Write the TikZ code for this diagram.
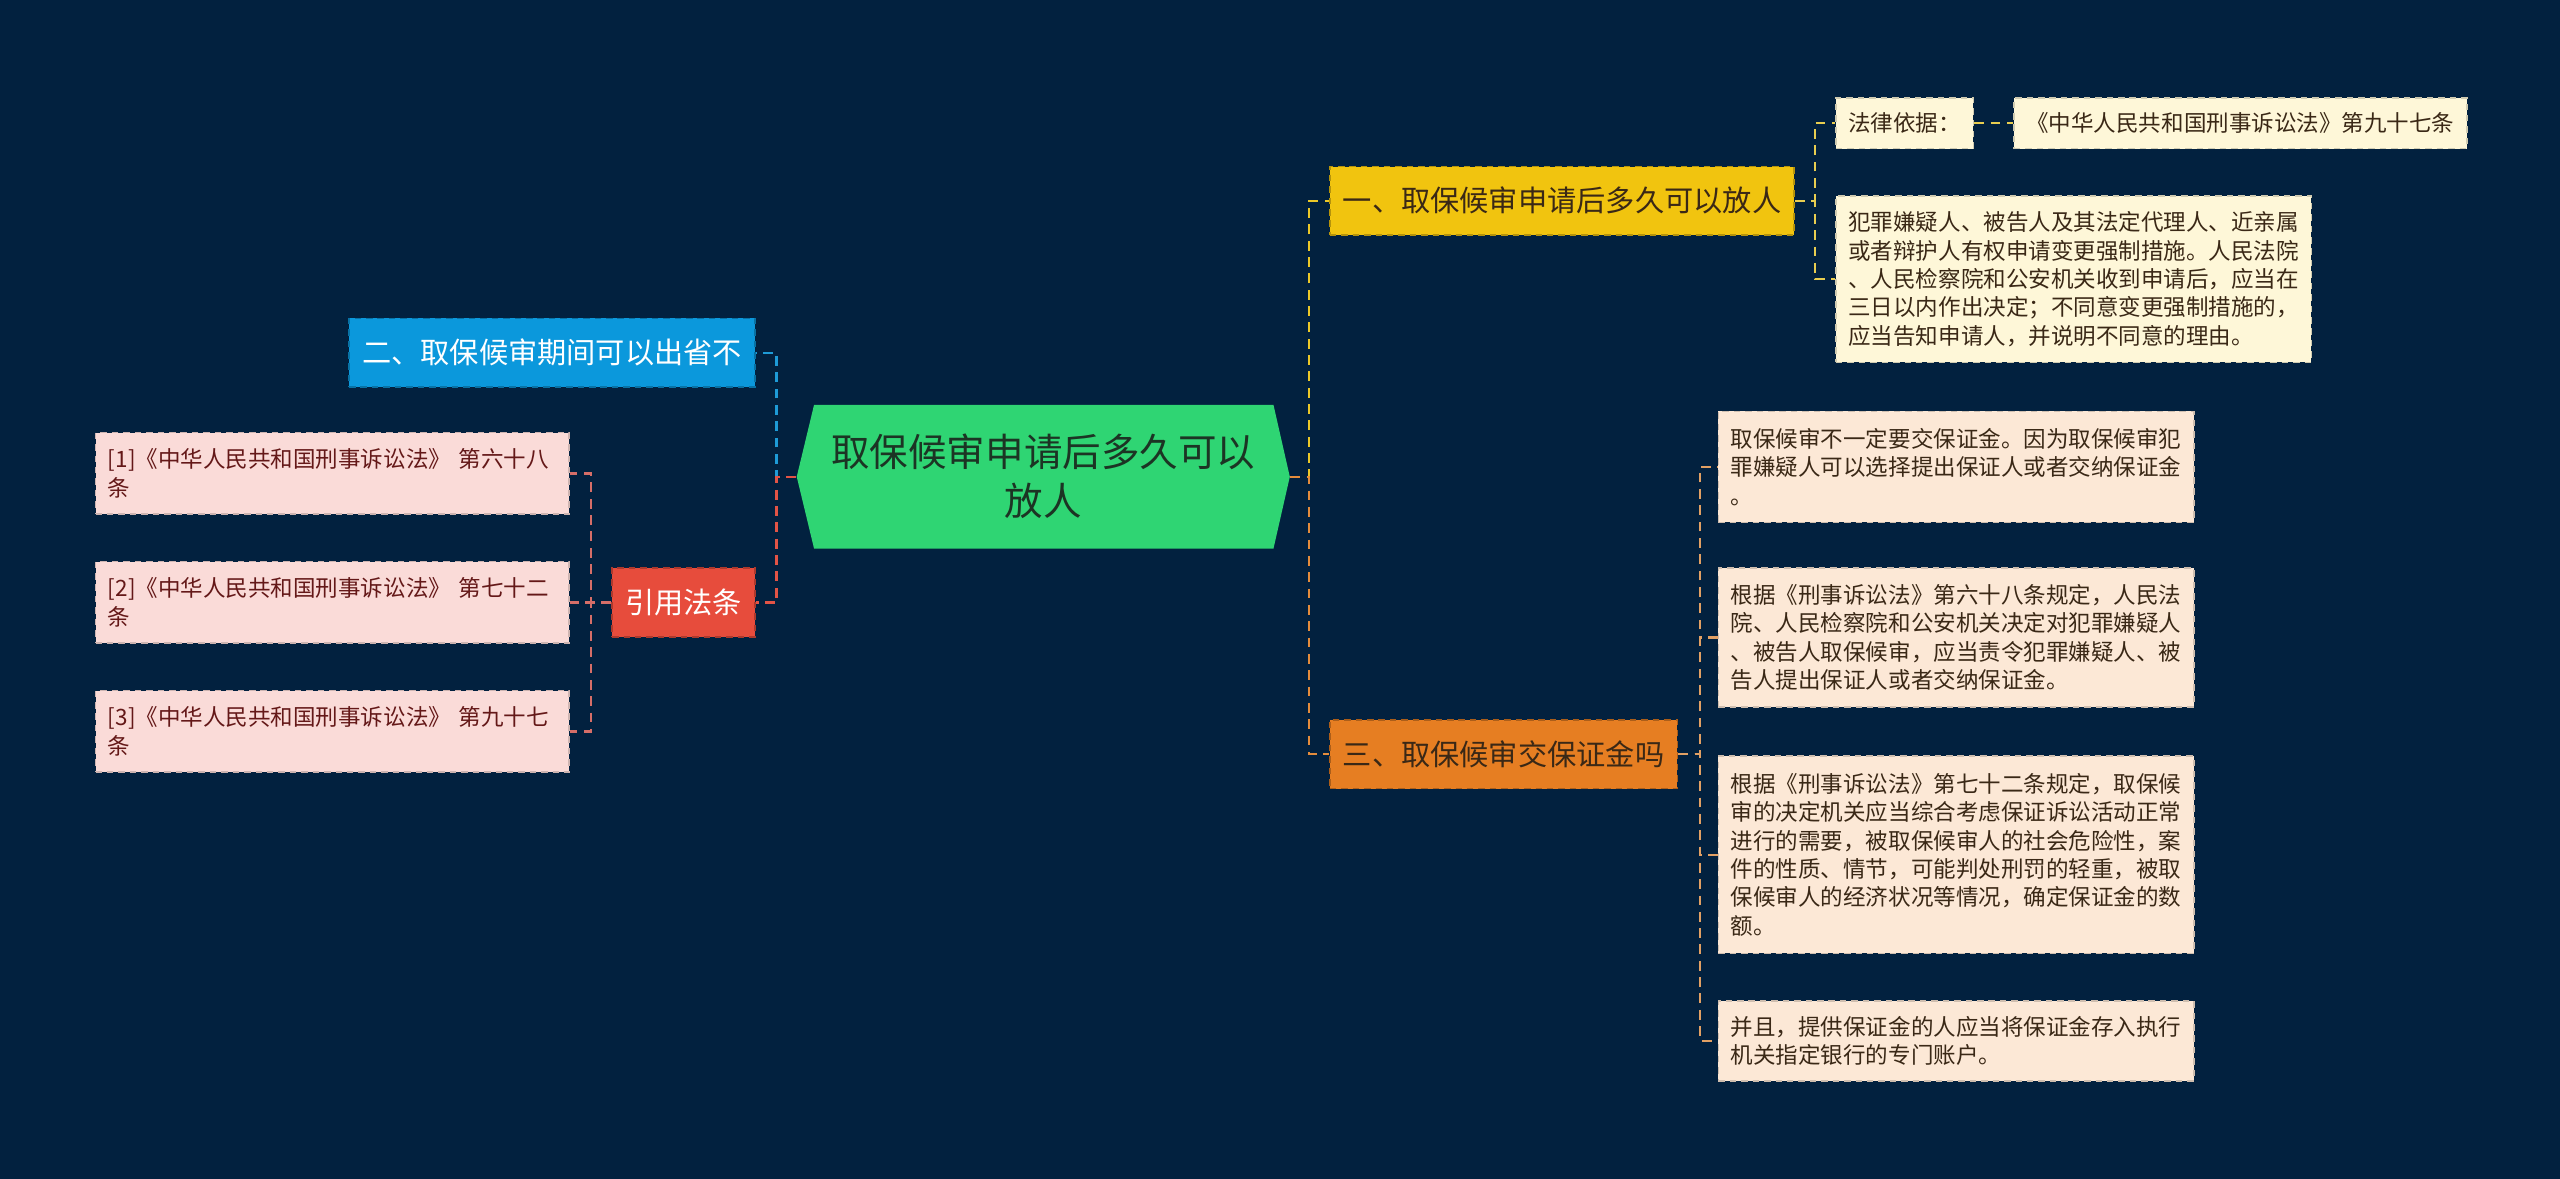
\documentclass[tikz,border=0pt]{standalone}
\usepackage{fontspec}
\setmainfont{Noto Sans CJK SC}
\definecolor{bgnavy}{RGB}{2,33,63}
\definecolor{rootgreen}{RGB}{47,213,115}
\definecolor{roottext}{RGB}{28,52,36}
\definecolor{topicyellow}{RGB}{241,196,15}
\definecolor{topicblue}{RGB}{11,152,220}
\definecolor{topicred}{RGB}{231,76,60}
\definecolor{topicorange}{RGB}{230,126,34}
\definecolor{leafcream}{RGB}{254,247,216}
\definecolor{leafpeach}{RGB}{252,232,214}
\definecolor{leafpink}{RGB}{250,219,216}
\definecolor{textbrown}{RGB}{58,40,22}
\definecolor{textmaroon}{RGB}{100,24,24}
\definecolor{linkyellow}{RGB}{236,200,40}
\definecolor{linkorange}{RGB}{228,140,60}
\definecolor{linkblue}{RGB}{30,155,215}
\definecolor{linkred}{RGB}{226,84,70}
\definecolor{linkcream}{RGB}{232,205,80}
\definecolor{linkpeach}{RGB}{226,160,100}
\definecolor{linkpink}{RGB}{214,110,104}
\tikzset{
  topic/.style={draw=#1!75!black, dash pattern=on 2pt off 1.5pt, line width=0.5pt,
    fill=#1, minimum height=21pt, inner xsep=4pt, inner ysep=2pt,
    font=\fontsize{8.95}{10}\selectfont},
  leaf/.style={draw=#1!82!black, dash pattern=on 2pt off 1.5pt, line width=0.5pt,
    fill=#1, align=left, inner xsep=3.8pt, inner ysep=2.5pt,
    font=\fontsize{6.9}{8.7}\selectfont},
  link/.style={draw=#1, dash pattern=on 3pt off 2pt, line width=0.7pt}
}
\begin{document}
\begin{tikzpicture}[x=0.5pt, y=-0.5pt]
  % Canvas
  \fill[bgnavy] (0,0) rectangle (1568,722);
  \useasboundingbox (0,0) rectangle (1568,722);
  % Central topic (hexagon)
  \fill[rootgreen] (488,292) -- (498.6,248) -- (780,248) -- (790,292)
    -- (780,336) -- (498.6,336) -- cycle;
  \node[minimum width=151pt, minimum height=44pt, align=center, text=roottext,
    font=\fontsize{11.8}{15}\selectfont] (root) at (639,292)
    {取保候审申请后多久可以\\放人};
  % Main topics
  \node[topic=topicyellow, text=textbrown, anchor=west] (t1) at (814,123)
    {一、取保候审申请后多久可以放人};
  \node[topic=topicblue, text=white, anchor=east] (t2) at (463,216)
    {二、取保候审期间可以出省不};
  \node[topic=topicorange, text=textbrown, anchor=west] (t3) at (814,462)
    {三、取保候审交保证金吗};
  \node[topic=topicred, text=white, anchor=east] (cite) at (463,369) {引用法条};
  % Leaves of topic one
  \node[leaf=leafcream, text=textbrown, anchor=west, minimum height=15.5pt] (law)
    at (1124,75.5) {法律依据：};
  \node[leaf=leafcream, text=textbrown, anchor=west, minimum height=15.5pt] (lawref)
    at (1233,75.5) {《中华人民共和国刑事诉讼法》第九十七条};
  \node[leaf=leafcream, text=textbrown, anchor=west, minimum height=51pt] (y2)
    at (1124,171) {犯罪嫌疑人、被告人及其法定代理人、近亲属\\
    或者辩护人有权申请变更强制措施。人民法院\\
    、人民检察院和公安机关收到申请后，应当在\\
    三日以内作出决定；不同意变更强制措施的，\\
    应当告知申请人，并说明不同意的理由。};
  % Leaves of topic three
  \node[leaf=leafpeach, text=textbrown, anchor=west, minimum height=34pt] (o1)
    at (1052,286) {取保候审不一定要交保证金。因为取保候审犯\\
    罪嫌疑人可以选择提出保证人或者交纳保证金\\
    。};
  \node[leaf=leafpeach, text=textbrown, anchor=west, minimum height=42.5pt] (o2)
    at (1052,390.5) {根据《刑事诉讼法》第六十八条规定，人民法\\
    院、人民检察院和公安机关决定对犯罪嫌疑人\\
    、被告人取保候审，应当责令犯罪嫌疑人、被\\
    告人提出保证人或者交纳保证金。};
  \node[leaf=leafpeach, text=textbrown, anchor=west, minimum height=60.5pt] (o3)
    at (1052,523.5) {根据《刑事诉讼法》第七十二条规定，取保候\\
    审的决定机关应当综合考虑保证诉讼活动正常\\
    进行的需要，被取保候审人的社会危险性，案\\
    件的性质、情节，可能判处刑罚的轻重，被取\\
    保候审人的经济状况等情况，确定保证金的数\\
    额。};
  \node[leaf=leafpeach, text=textbrown, anchor=west, minimum height=24.5pt] (o4)
    at (1052,637.5) {并且，提供保证金的人应当将保证金存入执行\\
    机关指定银行的专门账户。};
  % Cited articles
  \node[leaf=leafpink, text=textmaroon, anchor=east, minimum height=25pt,
    text width=137.4pt] (c1) at (349,290) {[1]《中华人民共和国刑事诉讼法》 第六十八\\条};
  \node[leaf=leafpink, text=textmaroon, anchor=east, minimum height=25pt,
    text width=137.4pt] (c2) at (349,369) {[2]《中华人民共和国刑事诉讼法》 第七十二\\条};
  \node[leaf=leafpink, text=textmaroon, anchor=east, minimum height=25pt,
    text width=137.4pt] (c3) at (349,448) {[3]《中华人民共和国刑事诉讼法》 第九十七\\条};
  % Connectors from the centre
  \draw[link=linkyellow] (root.east) -- ++(11.5,0) |- (t1.west);
  \draw[link=linkorange] (root.east) -- ++(11.5,0) |- (t3.west);
  \draw[link=linkblue] (root.west) -- ++(-12,0) |- (t2.east);
  \draw[link=linkred] (root.west) -- ++(-12,0) |- (cite.east);
  % Connectors to the leaves
  \foreach \leafname in {law, y2}
    \draw[link=linkcream] (t1.east) -- ++(12,0) |- (\leafname.west);
  \draw[link=linkcream] (law.east) -- (lawref.west);
  \foreach \leafname in {o1, o2, o3, o4}
    \draw[link=linkpeach] (t3.east) -- ++(13.5,0) |- (\leafname.west);
  \foreach \leafname in {c1, c2, c3}
    \draw[link=linkpink] (cite.west) -- ++(-12.5,0) |- (\leafname.east);
\end{tikzpicture}
\end{document}
